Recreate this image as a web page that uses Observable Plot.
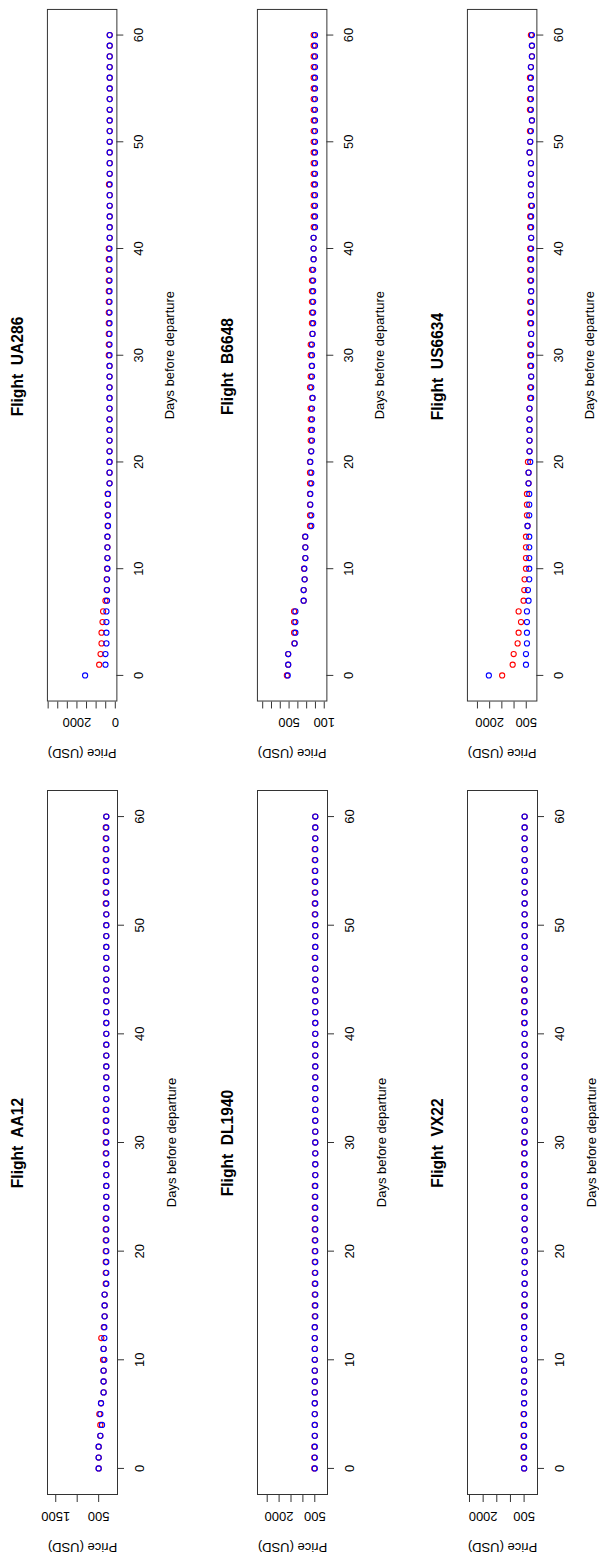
<!DOCTYPE html>
<html>
<head>
<meta charset="utf-8">
<script src="https://cdn.jsdelivr.net/npm/d3@7"></script>
<script src="https://cdn.jsdelivr.net/npm/@observablehq/plot@0.6"></script>
<style>
html, body { margin: 0; padding: 0; background: #fff; }
#page { position: relative; width: 599px; height: 1562px; overflow: hidden; background: #fff; }
#rot { position: absolute; left: 0; top: 1562px; width: 1562px; height: 599px; transform-origin: 0 0; transform: rotate(-90deg); }
.panel { position: absolute; }
.title { position: absolute; font: bold 15.6px "Liberation Sans", Arial, sans-serif; text-align: center; white-space: pre; line-height: 16px; color: #000; }
</style>
</head>
<body>
<div id="page"><div id="rot"></div></div>
<script>
// ---------- data ----------
const days = [0,1,2,3,4,5,6,7,8,9,10,11,12,13,14,15,16,17,18,19,20,21,22,23,24,25,26,27,28,29,30,31,32,33,34,35,36,37,38,39,40,41,42,43,44,45,46,47,48,49,50,51,52,53,54,55,56,57,58,59,60];
const dayTicks = [0,10,20,30,40,50,60];
const flights = ["AA12","UA286","DL1940","B6648","VX22","US6634"];

// series drawn in blue (on top) and red (underneath), price in USD, index = days before departure
const blueAA12 = [500,500,500,461,422,461,445,385,385,385,368,385,368,368,361,361,361,322,322,322,322,322,322,322,322,322,322,322,322,322,322,322,322,322,322,322,322,322,322,322,322,322,322,322,322,322,322,322,322,322,322,322,322,322,322,322,322,322,322,322,322];
const redAA12  = [500,500,500,461,461,484,445,385,385,385,398,385,438,380,361,361,361,335,335,335,335,335,335,335,322,322,322,322,322,335,335,335,335,335,322,322,322,322,322,322,322,322,322,322,322,322,322,322,322,322,322,322,335,335,335,335,335,335,335,335,322];

const blueUA286 = [1574,513,513,462,462,462,462,431,431,431,410,410,410,410,379,379,379,379,300,300,300,300,300,300,300,300,300,300,300,300,300,300,300,300,300,300,300,300,300,300,300,292,292,292,292,292,292,292,292,292,292,292,292,292,292,292,292,292,292,292,292];
const redUA286  = [null,841,769,718,718,667,636,513,450,450,430,410,410,410,400,400,400,400,300,300,300,300,300,300,300,300,300,300,300,300,340,340,340,340,340,340,340,340,340,340,340,292,292,292,292,292,330,292,292,292,292,292,292,292,292,292,292,292,292,292,292];

const blueDL1940 = [500,500,500,500,500,500,500,500,500,500,500,500,500,500,480,480,480,480,480,480,480,480,480,480,480,480,480,480,480,480,480,480,480,480,480,480,480,480,480,480,480,480,480,480,480,480,480,480,480,480,480,480,480,480,480,480,480,480,480,480,480];
const redDL1940  = [520,520,520,500,500,500,500,500,500,500,500,500,500,500,500,500,500,500,500,500,500,500,500,500,500,500,500,480,480,480,480,480,480,480,480,480,480,480,480,480,480,480,480,480,480,480,480,500,480,480,480,500,500,500,500,500,500,500,480,480,480];

const blueB6648 = [515,510,510,436,428,428,428,334,334,323,326,315,315,315,247,247,258,258,247,247,258,247,239,239,239,239,232,247,239,239,239,239,232,226,226,226,226,226,226,221,221,221,205,205,205,205,205,205,205,205,205,205,205,205,205,205,205,205,205,205,205];
const redB6648  = [525,510,510,440,443,443,443,334,334,323,330,315,315,318,262,262,262,262,262,262,262,250,254,254,254,254,236,262,254,243,254,254,236,240,240,240,240,240,240,221,221,221,220,220,220,220,220,220,220,220,220,220,220,220,220,220,220,220,220,220,220];

const blueVX22 = [500,500,500,500,500,500,500,500,500,500,500,500,500,500,480,480,480,480,480,480,480,480,480,480,480,480,480,480,480,480,480,480,480,480,480,480,480,480,480,480,480,480,480,480,480,480,480,480,480,480,480,480,480,480,480,480,480,480,480,480,480];
const redVX22  = [500,520,520,520,520,520,500,500,500,500,500,500,500,500,500,500,480,480,480,480,480,480,480,480,480,500,500,500,500,500,500,480,480,480,480,480,480,480,480,480,480,500,500,500,500,500,480,480,480,480,480,480,480,480,480,480,480,480,480,480,480];

const blueUS6634 = [2033,512,512,472,472,472,472,406,431,378,378,378,378,378,447,378,378,378,406,406,337,366,366,366,366,366,300,300,300,300,300,300,300,300,300,300,300,300,300,300,300,300,300,300,268,309,309,309,309,364,337,309,268,309,309,309,309,309,268,268,268];
const redUS6634  = [1488,1057,1016,854,813,715,813,610,581,569,512,512,512,512,447,472,472,472,406,406,431,366,366,366,366,366,340,340,300,340,340,340,300,340,340,340,300,340,340,340,340,300,340,340,309,309,309,309,309,364,337,350,268,350,350,309,350,309,268,268,310];

// price axis ticks, labelled ticks and extent per panel (USD)
const priceTicks = {
  AA12:   [500,1000,1500],
  UA286:  [0,500,1000,1500,2000,2500,3000,3500],
  DL1940: [500,1000,1500,2000,2500],
  B6648:  [100,200,300,400,500,600,700,800],
  VX22:   [500,1000,1500,2000,2500],
  US6634: [500,1000,1500,2000,2500]
};
const priceLabels = {
  AA12: [500,1500], UA286: [0,2000], DL1940: [500,2000],
  B6648: [100,500], VX22: [500,2000], US6634: [500,2000]
};
const priceExtent = {
  AA12: [61,1692], UA286: [-82,3538], DL1940: [-34,2908],
  B6648: [70,860], VX22: [9,2573], US6634: [65,2911]
};
const blueSeries = {AA12: blueAA12, UA286: blueUA286, DL1940: blueDL1940, B6648: blueB6648, VX22: blueVX22, US6634: blueUS6634};
const redSeries  = {AA12: redAA12,  UA286: redUA286,  DL1940: redDL1940,  B6648: redB6648,  VX22: redVX22,  US6634: redUS6634};

// ---------- layout (unrotated page, 1562 x 599) ----------
const colBox = [[67, 771], [861, 1558]];
const titleShift = [0, -14];
const rowTop = 47, rowStep = 210, boxH = 70;
const mL = 70, mR = 10, mT = 10, mB = 75;
const font = '"Liberation Sans", Arial, Helvetica, sans-serif';

const rot = document.getElementById("rot");

flights.forEach((f, i) => {
  const col = i % 2, row = Math.floor(i / 2);
  const [x0, x1] = colBox[col];
  const top = rowTop + row * rowStep;
  const data = days.map((d, k) => ({day: d, blue: blueSeries[f][k], red: redSeries[f][k]}));
  const labels = priceLabels[f];

  const chart = Plot.plot({
    width: (x1 - x0) + mL + mR,
    height: boxH + mT + mB,
    marginLeft: mL, marginRight: mR, marginTop: mT, marginBottom: mB,
    style: {fontFamily: font, fontSize: "13px", background: "transparent", color: "#000", overflow: "visible"},
    x: {domain: [-2.4, 62.4]},
    y: {domain: priceExtent[f]},
    marks: [
      Plot.axisX({ticks: dayTicks, tickSize: 7, tickPadding: 10, stroke: "#333",
        label: "Days before departure", labelAnchor: "center", labelArrow: "none", labelOffset: 58}),
      Plot.axisY({ticks: priceTicks[f], tickFormat: d => labels.includes(d) ? String(d) : "",
        tickSize: 7, tickPadding: 10, tickRotate: -90, stroke: "#333",
        label: "Price (USD)", labelAnchor: "center", labelArrow: "none", labelOffset: 58}),
      Plot.dot(data, {x: "day", y: "red", r: 2.6, stroke: "#ff0000", strokeWidth: 1.1, fill: "none"}),
      Plot.dot(data, {x: "day", y: "blue", r: 2.6, stroke: "#0000ff", strokeWidth: 1.1, fill: "none"}),
      Plot.frame({stroke: "#333", strokeWidth: 1})
    ]
  });
  const wrap = document.createElement("div");
  wrap.className = "panel";
  wrap.style.left = (x0 - mL) + "px";
  wrap.style.top = (top - mT) + "px";
  wrap.appendChild(chart);
  rot.appendChild(wrap);

  const t = document.createElement("div");
  t.className = "title";
  t.textContent = "Flight  " + f;
  t.style.left = (x0 + titleShift[col]) + "px";
  t.style.width = (x1 - x0) + "px";
  t.style.top = (top - 37) + "px";
  rot.appendChild(t);
});
</script>
</body>
</html>
